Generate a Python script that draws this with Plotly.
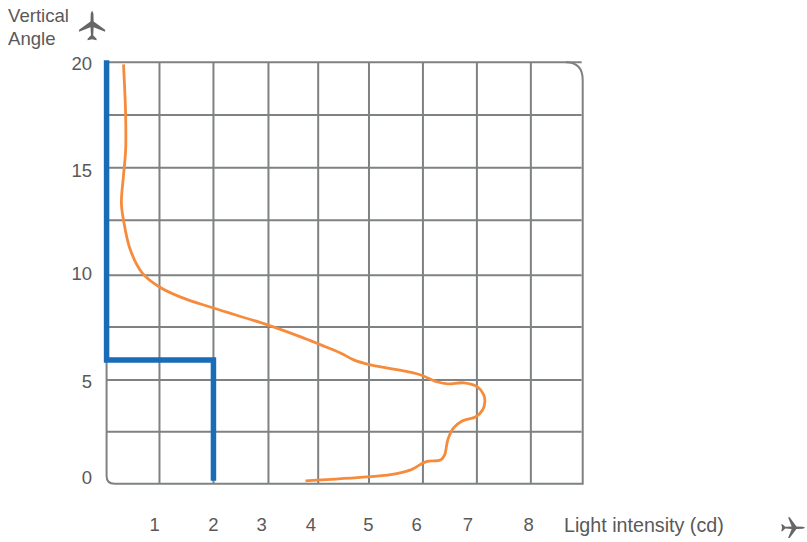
import math
import plotly.graph_objects as go

# Data
limit_x = [0, 0, 2.02, 2.02]
limit_y = [20.1, 5.88, 5.88, 0.14]
curve_x = [0.32, 0.36, 0.36, 0.32, 0.28, 0.32, 0.45, 0.675, 1, 1.4, 2.02, 3.04, 3.67, 4.05, 4.42, 4.67,
           4.99, 5.88, 6.26, 6.45, 6.75, 7.01, 7.13, 7.15, 7.11, 6.98, 6.73, 6.56, 6.45, 6.39, 6.32,
           6.03, 5.75, 5.37, 4.93, 3.76]
curve_y = [19.9, 17.5, 15.83, 14.64, 13.32, 12.51, 11.09, 10, 9.34, 8.86, 8.34, 7.54, 6.97, 6.59, 6.21, 5.88,
           5.64, 5.21, 4.83, 4.74, 4.79, 4.6, 4.22, 3.89, 3.51, 3.18, 2.99, 2.65, 2.09, 1.37, 1.14,
           1.04, 0.66, 0.43, 0.33, 0.14]
x_tick_pos = [0.91, 2.02, 2.93, 3.86, 4.95, 5.86, 6.83, 7.98]
x_tick_text = ["1", "2", "3", "4", "5", "6", "7", "8"]
y_tick_pos = [0.28, 4.83, 10, 14.88, 19.95]
y_tick_text = ["0", "5", "10", "15", "20"]
x_grid = [1, 2.02, 3.06, 4, 4.96, 5.98, 7, 8.02]
y_grid = [2.47, 4.93, 7.44, 9.9, 12.5, 15, 17.5, 20]
x_title = "Light intensity (cd)"
y_title_lines = ["Vertical", "Angle"]

W, H = 807, 542
SX, SY = 476 / 9, 422 / 20
X_RANGE = [-0.2, 9.1]
Y_RANGE = [-0.2, 20.3]
L = 106.5 + X_RANGE[0] * SX
R = 106.5 + X_RANGE[1] * SX
B = 484 - Y_RANGE[0] * SY
T = 484 - Y_RANGE[1] * SY
GRAY = "#7f8282"
TEXT = "#595959"
FONT = "Liberation Sans, Arial, sans-serif"


def px(x):
    return (x - L) / (R - L)


def py(y):
    return (B - y) / (B - T)


def plane(cx, cy, angle, s):
    """Aeroplane icon outline, nose towards +y before rotating."""
    half = [(0, 15), (1.3, 12), (1.6, 4), (13, -4.5), (13, -6.5), (1.6, -2), (1.1, -10), (4.5, -13.5),
            (4.5, -15), (0, -14)]
    pts = half + [(-x, y) for x, y in reversed(half[:-1])]
    a = math.radians(angle)
    out = []
    for x, y in pts:
        qx = cx + s * (x * math.cos(a) + y * math.sin(a))
        qy = cy - s * (-x * math.sin(a) + y * math.cos(a))
        out.append(f"{px(qx):.5f} {py(qy):.5f}")
    return "M " + " L ".join(out) + " Z"


fig = go.Figure()
fig.add_trace(go.Scatter(x=curve_x, y=curve_y, mode="lines", hoverinfo="skip",
                         line=dict(color="#f68b3c", width=2.8, shape="spline", smoothing=1.0)))
fig.add_trace(go.Scatter(x=limit_x, y=limit_y, mode="lines", hoverinfo="skip",
                         line=dict(color="#1a6bb8", width=5.5)))

grid_line = dict(color=GRAY, width=2)
for v in x_grid:
    fig.add_shape(type="line", x0=v, x1=v, y0=0, y1=20, xref="x", yref="y", line=grid_line, layer="below")
for v in y_grid:
    fig.add_shape(type="line", x0=0, x1=8.98, y0=v, y1=v, xref="x", yref="y", line=grid_line, layer="below")
frame = "M 0 20 L 0 0.38 Q 0 0 0.15 0 L 9 0 L 9 19.15 Q 9 20 8.68 20"
fig.add_shape(type="path", path=frame, xref="x", yref="y", line=grid_line, layer="below")
for path in (plane(92, 25, 0, 1.0), plane(793, 528, 90, 0.8)):
    fig.add_shape(type="path", path=path, xref="paper", yref="paper", line=dict(width=0), fillcolor="#666666")

for line, yc in zip(y_title_lines, (15, 38)):
    fig.add_annotation(x=px(5.5), y=py(yc), xref="paper", yref="paper", xanchor="left", yanchor="middle", align="left",
                       text=line, showarrow=False, font=dict(size=18.6, color=TEXT, family=FONT))
fig.add_annotation(x=px(644), y=py(525), xref="paper", yref="paper", xanchor="center", yanchor="middle",
                   text=x_title, showarrow=False, font=dict(size=19.7, color=TEXT, family=FONT))

fig.update_xaxes(range=X_RANGE, tickmode="array", tickvals=x_tick_pos, ticktext=x_tick_text, showgrid=False,
                 zeroline=False, showline=False, ticks="", ticklabelstandoff=23, automargin=False,
                 tickfont=dict(size=18.5, color=TEXT, family=FONT))
fig.update_yaxes(range=Y_RANGE, tickmode="array", tickvals=y_tick_pos, ticktext=y_tick_text, showgrid=False,
                 zeroline=False, showline=False, ticks="", ticklabelstandoff=3, automargin=False,
                 tickfont=dict(size=18.5, color=TEXT, family=FONT))
fig.update_layout(width=W, height=H, autosize=False, showlegend=False,
                  paper_bgcolor="white", plot_bgcolor="white",
                  margin=dict(l=L, r=W - R, t=T, b=H - B, pad=0))
fig.write_html("out.html", config={"displayModeBar": False},
               post_script="document.body.style.margin='0';document.body.style.overflow='hidden';")
